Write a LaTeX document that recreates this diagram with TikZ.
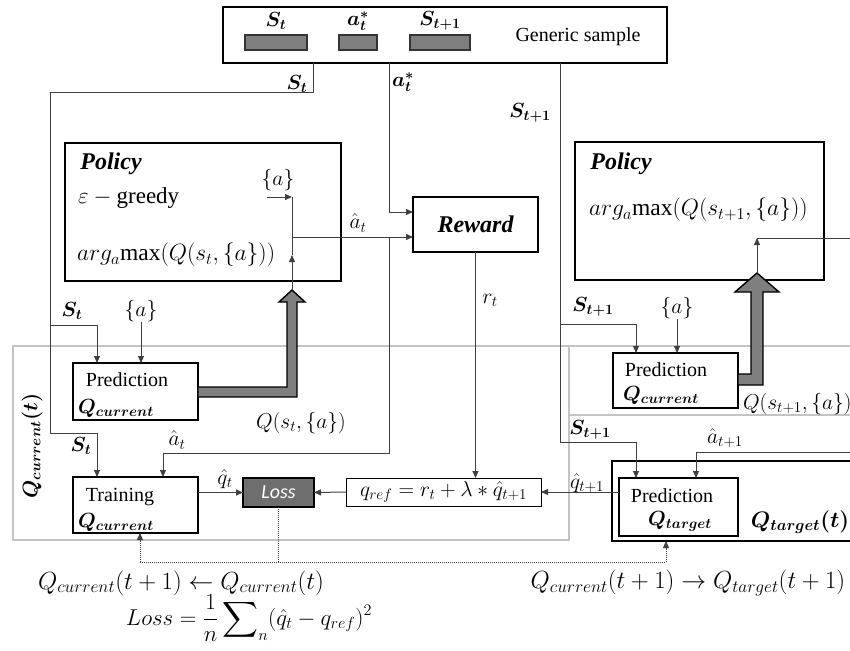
\RequirePackage{fix-cm}
\documentclass[tikz,border=0pt]{standalone}
\usepackage{amsmath}
\usepackage{bm}
\usepackage{fontspec}
\setmainfont{Liberation Serif}
\newfontfamily\lossfont{Carlito}
\usetikzlibrary{arrows.meta}
\definecolor{lnc}{HTML}{404040}
\definecolor{grayc}{HTML}{C4C4C4}
\definecolor{fillg}{HTML}{7F7F7F}
\definecolor{lossg}{HTML}{6E6E6E}
\newcommand{\fsz}{\fontsize{20.5}{24}\selectfont}
\newcommand{\fbig}{\fontsize{24}{28}\selectfont}
\newcommand{\fmid}{\fontsize{21.5}{26}\selectfont}
\newcommand{\farg}{\fontsize{23.5}{27}\selectfont}
\newcommand{\feq}{\fontsize{24.8}{29}\selectfont}
\begin{document}
\begin{tikzpicture}[x=1pt,y=-1pt,
 every node/.style={font=\fsz, inner sep=0pt, outer sep=0pt},
 box/.style={draw=black, line width=2.6pt},
 thinbox/.style={draw=black, line width=1pt},
 graycont/.style={draw=grayc, line width=2.6pt},
 conn/.style={draw=lnc, line width=1pt},
 tip/.style={-{Triangle[length=7pt,width=6pt]}},
 dotc/.style={draw=lnc, line width=1pt, densely dotted},
 bar/.style={draw=black!80, line width=1.4pt, fill=fillg},
 bigarrow/.style={draw=black, line width=1.4pt, fill=fillg},
 ttl/.style={font=\fbig\bfseries\itshape},
 mid/.style={font=\fmid},
 argf/.style={font=\farg},
 eqn/.style={font=\feq}]
\useasboundingbox (0,0) rectangle (850,650);
\clip (0,0) rectangle (850,650);

% gray containers
\node[graycont, minimum width=556pt, minimum height=194pt] (qcur) at (291,443) {};
\node[graycont, minimum width=301pt, minimum height=69pt] (qcurR) at (719.5,380.5) {};
\node[rotate=90, font=\fontsize{21}{25}\selectfont] (qcurlab) at (32,446) {$\bm{Q_{current}(t)}$};

% generic sample
\node[box, minimum width=444pt, minimum height=56pt] (sample) at (445,35) {};
\node[font=\fontsize{20}{24}\selectfont] (gen) at (578,37) {Generic sample};
\node[bar, minimum width=62pt, minimum height=15pt] (barS) at (276,42.5) {};
\node[bar, minimum width=38pt, minimum height=15pt] (barA) at (358,42.5) {};
\node[bar, minimum width=60pt, minimum height=15pt] (barS1) at (440,42.5) {};
\node (tS) at (276,21) {$\bm{S_t}$};
\node (tA) at (358,21) {$\bm{a_t^*}$};
\node (tS1) at (440,21) {$\bm{S_{t+1}}$};

% policy left
\node[box, minimum width=276pt, minimum height=138pt] (polL) at (203,212) {};
\node[ttl] (polLt) at (111,164) {Policy};
\node[font=\fontsize{23}{27}\selectfont, anchor=west] (eps) at (78,198) {$\varepsilon-\text{greedy}$};
\node[argf, anchor=west] (argL) at (77,255) {$arg_a\mathrm{max}(Q(s_t,\{a\}))$};
\node[mid] (aPol) at (278,180) {$\{a\}$};

% reward
\node[box, ttl, minimum width=125pt, minimum height=55pt] (reward) at (475.5,224.5) {Reward};

% policy right
\node[box, minimum width=249pt, minimum height=138pt] (polR) at (699.5,211) {};
\node[ttl] (polRt) at (621,164) {Policy};
\node[argf, anchor=west] (argR) at (589,210) {$arg_a\mathrm{max}(Q(s_{t+1},\{a\}))$};

% prediction left
\node[box, minimum width=125pt, minimum height=57pt] (predL) at (135.5,391.5) {};
\node[font=\fontsize{20}{24}\selectfont] (predLt) at (127,380) {Prediction};
\node (predLq) at (116,408) {$\bm{Q_{current}}$};

% training
\node[box, minimum width=125pt, minimum height=56pt] (train) at (135.5,505) {};
\node[font=\fontsize{20}{24}\selectfont] (traint) at (120,497) {Training};
\node (trainq) at (116,522) {$\bm{Q_{current}}$};

% loss and qref
\node[draw=black, line width=2pt, fill=lossg, minimum width=71pt, minimum height=29pt,
      font=\fontsize{20}{24}\selectfont\lossfont\itshape, text=white] (loss) at (278.5,492.5) {Loss};
\node[thinbox, minimum width=195pt, minimum height=28pt, font=\fmid] (qref) at (443.5,492)
      {$q_{ref}=r_t+\lambda*\hat{q}_{t+1}$};

% prediction right (current)
\node[box, minimum width=125pt, minimum height=55pt] (predR) at (675.5,380.5) {};
\node[font=\fontsize{20}{24}\selectfont] (predRt) at (666,370) {Prediction};
\node (predRq) at (661,395) {$\bm{Q_{current}}$};

% target
\node[box, minimum width=258pt, minimum height=80pt] (qtc) at (741,501) {};
\node[box, minimum width=119pt, minimum height=58pt] (predT) at (678.5,507) {};
\node[font=\fontsize{20}{24}\selectfont] (predTt) at (672,496) {Prediction};
\node (predTq) at (680,521) {$\bm{Q_{target}}$};
\node[font=\fontsize{22.4}{26}\selectfont] (qtlab) at (800,522) {$\bm{Q_{target}(t)}$};

% labels
\node (lSt1) at (297,84) {$\bm{S_t}$};
\node (lAs) at (403,82) {$\bm{a_t^*}$};
\node (lS1a) at (530,113) {$\bm{S_{t+1}}$};
\node (lSt2) at (72,311) {$\bm{S_t}$};
\node[mid] (aL) at (141,311) {$\{a\}$};
\node (lSt3) at (81,446) {$\bm{S_t}$};
\node[mid] (lah) at (358,223) {$\hat{a}_t$};
\node[mid] (lah2) at (177,440) {$\hat{a}_t$};
\node[mid] (lrt) at (490,300) {$r_t$};
\node[mid] (lQ) at (301,423) {$Q(s_t,\{a\})$};
\node[mid] (lqh) at (225,479) {$\hat{q}_t$};
\node (lS1b) at (593,307) {$\bm{S_{t+1}}$};
\node[mid] (aR) at (677,308) {$\{a\}$};
\node[mid, anchor=west] (lQR) at (743,404) {$Q(s_{t+1},\{a\})$};
\node (lS1c) at (590,430) {$\bm{S_{t+1}}$};
\node[mid] (lah3) at (725,438) {$\hat{a}_{t+1}$};
\node[mid] (lqh2) at (587,483) {$\hat{q}_{t+1}$};
\node[eqn] (eq1) at (181,583) {$Q_{current}(t+1)\leftarrow Q_{current}(t)$};
\node[font=\fontsize{23}{27}\selectfont] (eq2) at (249,618) {$\displaystyle Loss=\frac{1}{n}\sum\nolimits_n(\hat{q}_t-q_{ref})^2$};
\node[eqn] (eq3) at (688,583) {$Q_{current}(t+1)\rightarrow Q_{target}(t+1)$};

% big arrows
\draw[bigarrow] (198,387) -- (287,387) -- (287,302) -- (279,302) -- (292,290) -- (305,302)
  -- (297,302) -- (297,397) -- (198,397) -- cycle;
\draw[bigarrow] (738,374) -- (751,374) -- (751,292) -- (735,292) -- (757,273) -- (779,292)
  -- (763,292) -- (763,385) -- (738,385) -- cycle;

% coordinates
\coordinate (stA) at (313,93);
\coordinate (stB) at (50,93);
\coordinate (stC) at (50,433);
\coordinate (stD) at (97,433);
\coordinate (stE) at (50,325);
\coordinate (stF) at (97,325);
\coordinate (asA) at (389,212);
\coordinate (pTop) at (292,197);
\coordinate (pMid) at (292,255);
\coordinate (pTip) at (292,290);
\coordinate (pSm) at (267,197);
\coordinate (pA) at (292,237);
\coordinate (ahA) at (389,237);
\coordinate (ahB) at (389,453);
\coordinate (ahC) at (163,453);
\coordinate (s1A) at (560,442);
\coordinate (s1B) at (636,442);
\coordinate (s1C) at (560,324);
\coordinate (s1D) at (636,324);
\coordinate (an1) at (852,452);
\coordinate (an2) at (696,452);
\coordinate (rTip) at (757,273);
\coordinate (rTop) at (757,238);
\coordinate (rOut) at (852,238);
\coordinate (dL) at (140,562);
\coordinate (dR) at (666,562);
\coordinate (dM) at (278.5,562);

% connectors
\draw[conn,tip] (sample.south -| stA) -- (stA) -- (stB) -- (stC) -- (stD) -- (train.north -| stD);
\draw[conn,tip] (stE) -- (stF) -- (predL.north -| stF);
\draw[conn,tip] (aL.south) -- (predL.north -| aL.south);
\draw[conn,tip] (sample.south -| asA) -- (asA) -- (reward.west |- asA);
\draw[conn,tip] (pTip) -- (pMid);
\draw[conn] (pMid) -- (pTop);
\draw[conn,tip] (pSm) -- (pTop);
\draw[conn,tip] (pA) -- (reward.west |- pA);
\draw[conn,tip] (ahA) -- (ahB) -- (ahC) -- (train.north -| ahC);
\draw[conn,tip] (reward.south) -- (qref.north -| reward.south);
\draw[conn,tip] (qref.west) -- (loss.east);
\draw[conn,tip] (train.east |- loss.west) -- (loss.west);
\draw[conn,tip] (predT.west |- qref.east) -- (qref.east);
\draw[conn,tip] (sample.south -| s1A) -- (s1A) -- (s1B) -- (predT.north -| s1B);
\draw[conn,tip] (s1C) -- (s1D) -- (predR.north -| s1D);
\draw[conn,tip] (aR.south) -- (predR.north -| aR.south);
\draw[conn,tip] (an1) -- (an2) -- (predT.north -| an2);
\draw[conn,tip] (rTip) -- (rTop);
\draw[conn] (rTop) -- (rOut);
\draw[dotc] (loss.south) -- (dM);
\draw[dotc] (dL) -- (dR);
\draw[dotc,tip] (dL) -- (train.south -| dL);
\draw[dotc,tip] (dR) -- (qtc.south -| dR);
\end{tikzpicture}
\end{document}
